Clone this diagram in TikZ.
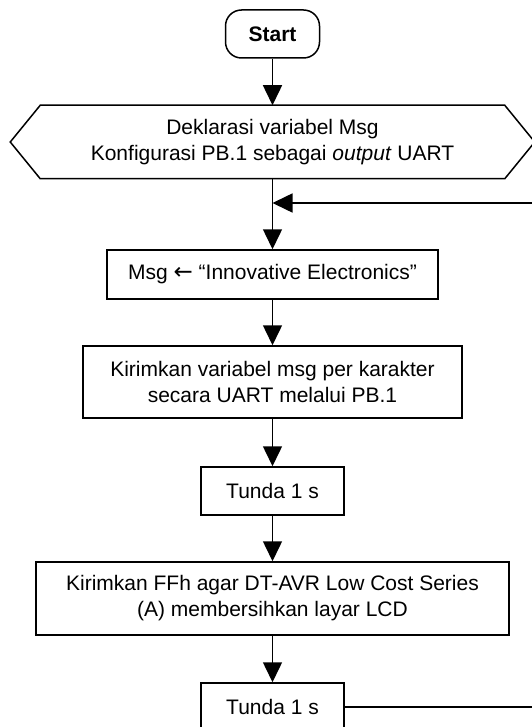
\documentclass[tikz,border=0pt]{standalone}
\usepackage{fontspec}
\setmainfont{Liberation Sans}
\newfontfamily\arrowfont{DejaVu Sans}
\usetikzlibrary{arrows.meta}

\begin{document}
\begin{tikzpicture}[x=1pt, y=-1pt, line width=1.5pt,
    box/.style={draw, rectangle, inner sep=0pt, align=center, font=\fontsize{21}{26}\selectfont},
    arr/.style={-{Triangle[length=20pt, width=19pt]}}]
  \useasboundingbox (0,0) rectangle (531,727);
  \node[box, rounded corners=16pt, minimum width=94pt, minimum height=48pt,
        font=\fontsize{21}{26}\selectfont\bfseries] (start) at (272.5,34) {Start};
  \node[box, draw=none, minimum width=463pt, minimum height=72pt] (init) at (272.5,142)
    {Deklarasi variabel Msg\\Konfigurasi PB.1 sebagai \textit{output} UART};
  \draw (init.north west) -- (init.north east) -- ([xshift=30pt]init.east) -- (init.south east)
    -- (init.south west) -- ([xshift=-30pt]init.west) -- cycle;
  \node[box, minimum width=331pt, minimum height=49pt] (msg) at (272.5,274.5)
    {Msg {\arrowfont\fontsize{23}{26}\selectfont ←} “Innovative Electronics”};
  \node[box, minimum width=379pt, minimum height=72pt] (send) at (272.5,382)
    {Kirimkan variabel msg per karakter\\secara UART melalui PB.1};
  \node[box, minimum width=143pt, minimum height=48pt] (delay1) at (272.5,491) {Tunda 1 s};
  \node[box, minimum width=473pt, minimum height=73pt] (clear) at (272.5,598.5)
    {Kirimkan FFh agar DT-AVR Low Cost Series\\(A) membersihkan layar LCD};
  \node[box, minimum width=143pt, minimum height=48pt] (delay2) at (272.5,707) {Tunda 1 s};
  \coordinate (join) at (272.5,203);
  \coordinate (back) at (560,203);
  \draw[arr] (start) -- (init);
  \draw[arr] (init) -- (msg);
  \draw[arr] (msg) -- (send);
  \draw[arr] (send) -- (delay1);
  \draw[arr] (delay1) -- (clear);
  \draw[arr] (clear) -- (delay2);
  \draw[arr] (delay2.east) -| (back) -- (join);
\end{tikzpicture}
\end{document}
